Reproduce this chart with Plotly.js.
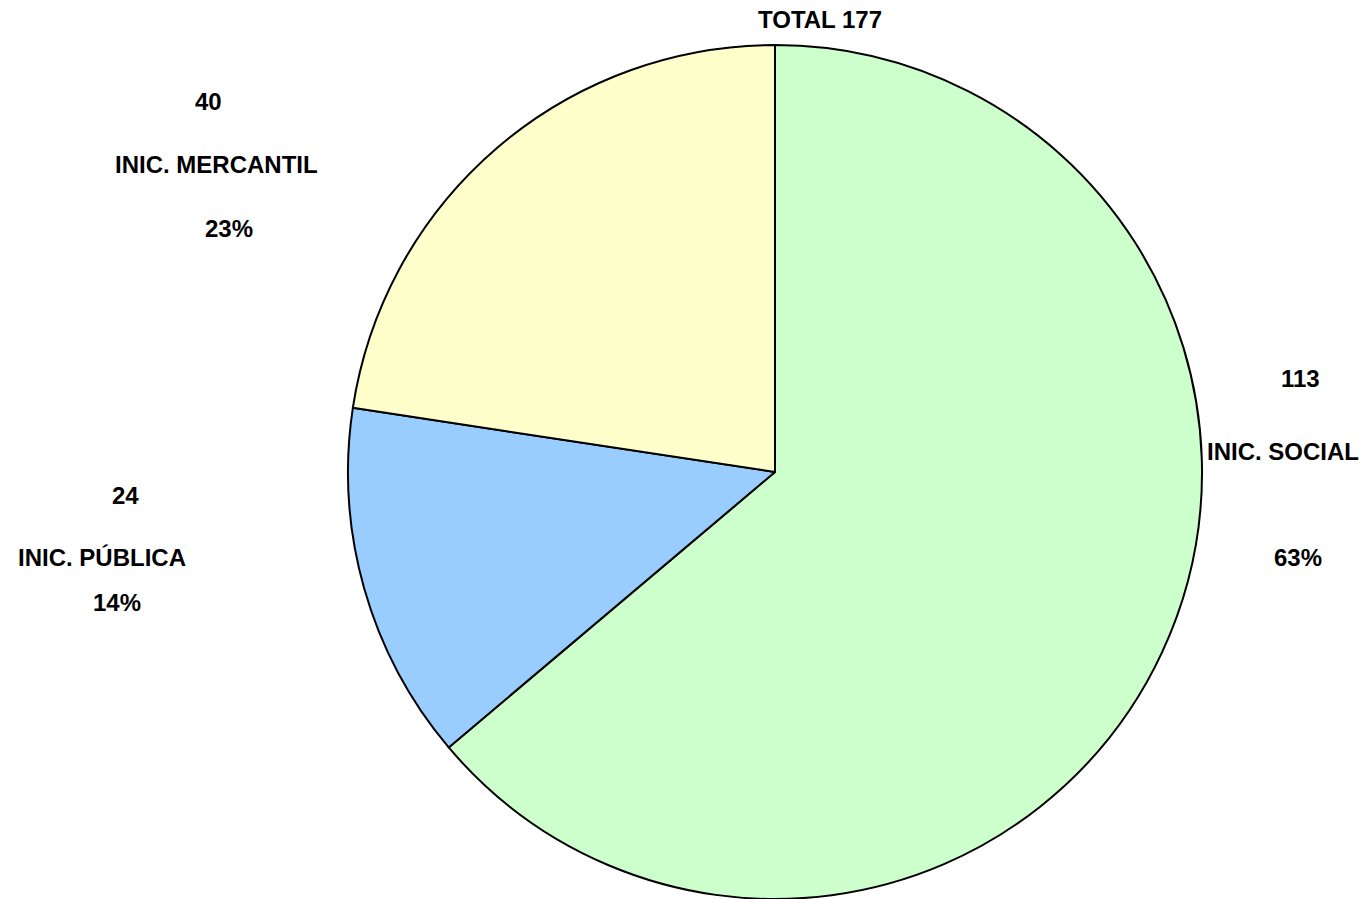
<!DOCTYPE html>
<html>
<head>
<meta charset="utf-8">
<script src="https://cdn.plot.ly/plotly-3.0.1.min.js"></script>
<style>html,body{margin:0;padding:0;background:#fff;}#chart{width:1367px;height:899px;}</style>
</head>
<body>
<div id="chart"></div>
<script>
const categories = ["INIC. SOCIAL", "INIC. PÚBLICA", "INIC. MERCANTIL"];
const values = [113, 24, 40];
const percents = ["63%", "14%", "23%"];
const colors = ["#CCFFCC", "#99CCFF", "#FFFFCC"];
const totalLabel = "TOTAL 177";

const W = 1367, H = 899;
const px = x => x / W;
const py = y => 1 - y / H;
const font = {family: "Liberation Sans, Arial, sans-serif", size: 24, color: "#000"};

// label line positions (pixel centers): [value, name, percent]
const labelPos = [
  [[1300, 379], [1283, 452], [1298, 557]],
  [[125, 495], [102, 557], [117, 602]],
  [[208, 101], [216, 165], [229, 229]]
];

const annotations = [];
categories.forEach((c, i) => {
  const texts = [String(values[i]), c, percents[i]];
  texts.forEach((t, j) => {
    annotations.push({
      x: px(labelPos[i][j][0]), y: py(labelPos[i][j][1]), xref: "paper", yref: "paper",
      text: "<b>" + t + "</b>", showarrow: false, font: font, xanchor: "center", yanchor: "middle"
    });
  });
});
annotations.push({x: px(820), y: py(20), xref: "paper", yref: "paper", text: "<b>" + totalLabel + "</b>",
  showarrow: false, font: font, xanchor: "center", yanchor: "middle"});

const trace = {
  type: "pie",
  labels: categories,
  values: values,
  sort: false,
  direction: "clockwise",
  rotation: 0,
  textinfo: "none",
  hoverinfo: "none",
  marker: {colors: colors, line: {color: "#000", width: 2}},
  domain: {x: [px(348), px(1202)], y: [0, py(45)]}
};

Plotly.newPlot("chart", [trace], {
  width: W, height: H,
  margin: {l: 0, r: 0, t: 0, b: 0},
  showlegend: false,
  paper_bgcolor: "#fff",
  annotations: annotations
}, {displayModeBar: false, staticPlot: true});
</script>
</body>
</html>
